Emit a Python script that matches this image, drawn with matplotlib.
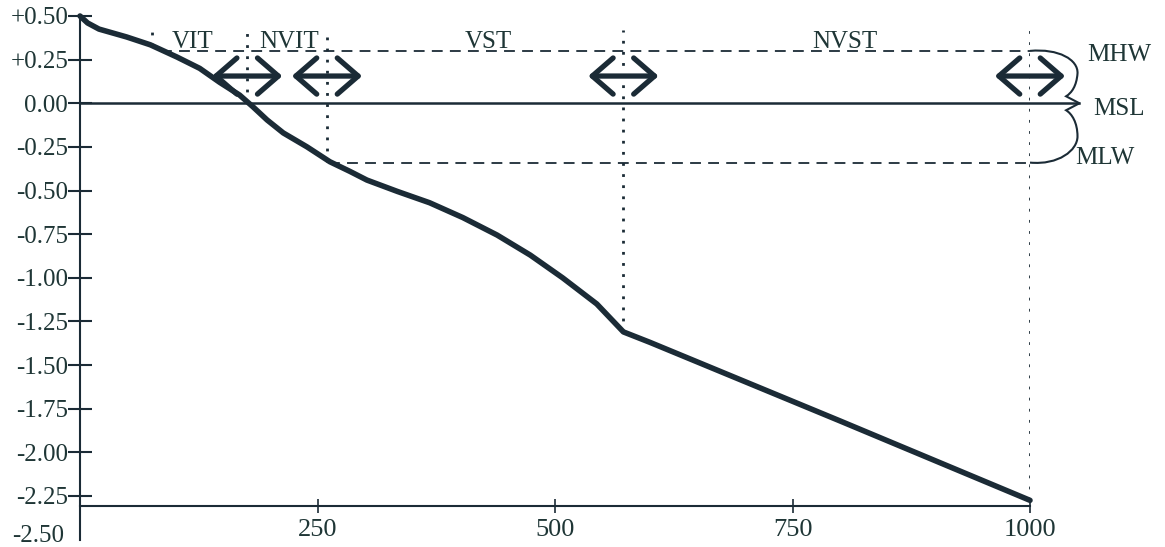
"""Beach profile with tidal levels and zone boundaries."""

import matplotlib
matplotlib.use("Agg")
import matplotlib.pyplot as plt
from matplotlib.path import Path
from matplotlib.patches import PathPatch

# ---------------------------------------------------------------------------
# Data
# ---------------------------------------------------------------------------
DIST = [0, 8, 20, 49, 74, 102, 126, 147, 168, 182, 197, 214, 239, 263,
        284, 302, 334, 368, 403, 439, 474, 508, 544, 572, 600, 800, 1000]
ELEV = [0.50, 0.46, 0.425, 0.38, 0.335, 0.265, 0.20, 0.12, 0.047, -0.02,
        -0.096, -0.17, -0.25, -0.335, -0.39, -0.44, -0.505, -0.57, -0.655,
        -0.755, -0.87, -1.00, -1.15, -1.31, -1.37, -1.82, -2.275]

MHW = 0.30
MSL = 0.00
MLW = -0.34

# zone boundaries (distance) and where their dotted markers stop
BOUNDS = [76, 176, 260, 572, 1000]
BOUND_LOW = [0.33, 0.00, -0.335, -1.31, -2.275]
BOUND_TOP = 0.42

ZONES = ["VIT", "NVIT", "VST", "NVST"]
ZONE_X = [119, 220, 430, 805]

ARROW_X = [176, 260, 572, 1000]
ARROW_Y = 0.156
ARROW_HALF = 37

Y_TICKS = [0.50, 0.25, 0.00, -0.25, -0.50, -0.75, -1.00, -1.25, -1.50,
           -1.75, -2.00, -2.25]
Y_LABELS = ["+0.50", "+0.25", "0.00", "-0.25", "-0.50", "-0.75", "-1.00",
            "-1.25", "-1.50", "-1.75", "-2.00", "-2.25"]
Y_BOTTOM = -2.50
X_TICKS = [250, 500, 750, 1000]

INK = "#1b2b36"
TEXT = "#1f3636"
FONT = "Liberation Serif"

# ---------------------------------------------------------------------------
# Plot
# ---------------------------------------------------------------------------
fig = plt.figure(figsize=(11.65, 5.47), dpi=100)
ax = fig.add_axes([80 / 1165, 1 - 539.6 / 547, 950 / 1165, 523.6 / 547])
ax.set_xlim(0, 1000)
ax.set_ylim(-2.5, 0.5)

for s in ("top", "right"):
    ax.spines[s].set_visible(False)
ax.spines["left"].set_linewidth(1.5)
ax.spines["left"].set_color(INK)
ax.spines["bottom"].set_linewidth(1.5)
ax.spines["bottom"].set_color(INK)
ax.spines["bottom"].set_position(("data", -2.31))

ax.set_yticks(Y_TICKS)
ax.set_yticklabels(Y_LABELS, fontfamily=FONT, fontsize=18, color=TEXT)
ax.tick_params(axis="y", direction="inout", length=17, width=1.5,
               color=INK, pad=0)
# bottom label of the elevation scale sits on the bare axis end
ax.text(-0.017, Y_BOTTOM + 0.018, f"{Y_BOTTOM:.2f}",
        transform=ax.get_yaxis_transform(), ha="right", va="center",
        fontfamily=FONT, fontsize=18, color=TEXT)

ax.set_xticks(X_TICKS)
ax.set_xticklabels([str(v) for v in X_TICKS], fontfamily=FONT,
                   fontsize=19, color=TEXT)
ax.tick_params(axis="x", direction="inout", length=10, width=1.2,
               color=INK, pad=4)

# tidal levels
ax.plot([0, 1052], [MSL, MSL], color=INK, lw=1.8, clip_on=False)
ax.plot([85, 1000], [MHW, MHW], color=INK, lw=1.3, dashes=(6, 4))
ax.plot([262, 1000], [MLW, MLW], color=INK, lw=1.3, dashes=(6, 4))

# zone boundaries
for bx, low in zip(BOUNDS, BOUND_LOW):
    ax.plot([bx, bx], [low, BOUND_TOP], color=INK, lw=2.0,
            linestyle=(0, (1, 3)))

# profile
ax.plot(DIST, ELEV, color=INK, lw=4, solid_capstyle="round",
        solid_joinstyle="round", clip_on=False, zorder=5)

# zone labels
for name, zx in zip(ZONES, ZONE_X):
    ax.text(zx, 0.318, name, ha="center", va="baseline",
            fontfamily=FONT, fontsize=18, color=TEXT)

# migration arrows
for ac in ARROW_X:
    ax.annotate("", xy=(ac + ARROW_HALF, ARROW_Y),
                xytext=(ac - ARROW_HALF, ARROW_Y),
                annotation_clip=False,
                arrowprops=dict(arrowstyle="<->,head_length=1.5,head_width=1.3",
                                lw=3.8, color=INK, shrinkA=0, shrinkB=0,
                                capstyle="round", joinstyle="round"),
                zorder=6)

# brace spanning MHW to MLW
verts = [
    (1000, MHW),
    (1030, 0.315), (1051, 0.25), (1050, 0.17),
    (1049, 0.10), (1044, 0.06), (1038, 0.04),
    (1052, 0.00),
    (1038, -0.04),
    (1044, -0.06), (1050, -0.11), (1050, -0.19),
    (1050, -0.27), (1030, -0.355), (1000, MLW),
]
codes = ([Path.MOVETO] + [Path.CURVE4] * 6 + [Path.LINETO] * 2
         + [Path.CURVE4] * 6)
brace = PathPatch(Path(verts, codes), facecolor="none", edgecolor=INK,
                  lw=1.5, clip_on=False)
ax.add_patch(brace)

ax.text(1060, 0.276, "MHW", ha="left", va="center", fontfamily=FONT,
        fontsize=18, color=TEXT, clip_on=False)
ax.text(1067, -0.03, "MSL", ha="left", va="center", fontfamily=FONT,
        fontsize=18, color=TEXT, clip_on=False)
ax.text(1048, -0.314, "MLW", ha="left", va="center", fontfamily=FONT,
        fontsize=18, color=TEXT, clip_on=False)

fig.savefig("out.png", dpi=100)
plt.close(fig)
